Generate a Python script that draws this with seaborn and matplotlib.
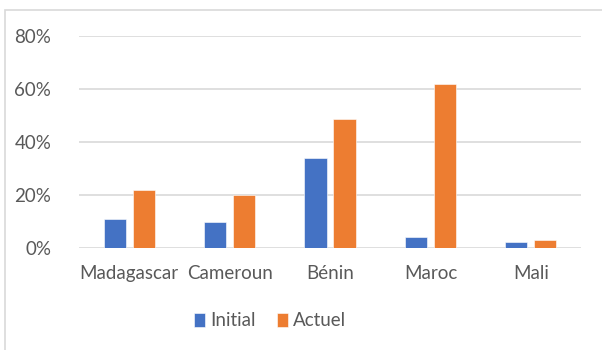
import matplotlib
matplotlib.use("Agg")
import matplotlib.pyplot as plt
from matplotlib.patches import Rectangle
from matplotlib.ticker import PercentFormatter
import pandas as pd
import seaborn as sns

countries = ["Madagascar", "Cameroun", "Bénin", "Maroc", "Mali"]
initial = [0.11, 0.10, 0.34, 0.04, 0.023]
actuel = [0.22, 0.20, 0.485, 0.62, 0.03]
series = ["Initial", "Actuel"]
colors = ["#4472C4", "#ED7D31"]
yticks = [0.0, 0.2, 0.4, 0.6, 0.8]

df = pd.DataFrame({
    "pays": countries * 2,
    "valeur": initial + actuel,
    "serie": [series[0]] * len(countries) + [series[1]] * len(countries),
})

sns.set_theme(style="white")
plt.rcParams["font.family"] = ["Lato", "DejaVu Sans"]
text_color = "#595959"
grid_color = "#D9D9D9"

fig = plt.figure(figsize=(6.02, 3.5), dpi=100)
fig.patch.set_facecolor("white")

# chart frame
fig.patches.append(Rectangle((5 / 602, -0.1), 1.2, (350 - 10) / 350 + 0.1,
                             transform=fig.transFigure, fill=False,
                             edgecolor=grid_color, linewidth=1.2))

ax = fig.add_axes([79 / 602, (350 - 248) / 350, (581 - 79) / 602, (248 - 36) / 350])
sns.barplot(data=df, x="pays", y="valeur", hue="serie", order=countries,
            hue_order=series, palette=colors, width=0.58, gap=0.24,
            saturation=1, edgecolor="white", linewidth=0.4, ax=ax, legend=True)

ax.set_ylim(0, 0.8)
ax.set_xlim(-0.5, len(countries) - 0.5)
ax.set_yticks(yticks)
ax.yaxis.set_major_formatter(PercentFormatter(1.0, decimals=0))
ax.set_xlabel("")
ax.set_ylabel("")
ax.set_axisbelow(True)
ax.yaxis.grid(True, color=grid_color, linewidth=1.2)
ax.xaxis.grid(False)
for s in ax.spines.values():
    s.set_visible(False)
ax.tick_params(axis="y", length=0, pad=20, labelsize=13.5, labelcolor=text_color)
ax.tick_params(axis="x", length=0, pad=12, labelsize=13.5, labelcolor=text_color)

handles, labels = ax.get_legend_handles_labels()
ax.get_legend().remove()
fig.legend(handles, labels, loc="center", bbox_to_anchor=(270 / 602, 1 - 321 / 350),
           ncol=2, frameon=False, fontsize=13.5, labelcolor=text_color,
           handlelength=0.6, handleheight=0.75, handletextpad=0.3, columnspacing=1.1)

fig.savefig("out.png", dpi=100, facecolor="white")
